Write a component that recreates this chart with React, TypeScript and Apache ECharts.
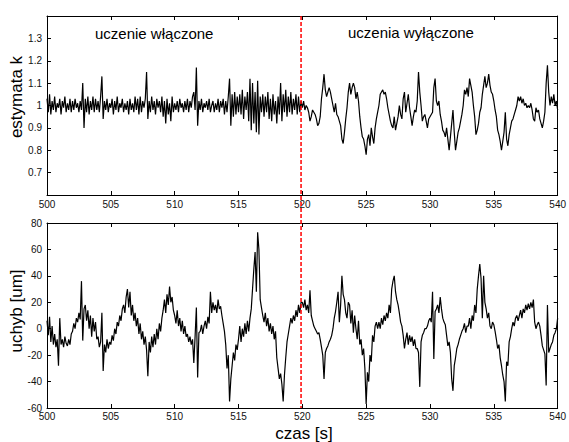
import React, { useEffect, useRef } from "react";
import * as echarts from "echarts";

const tStart = 500;
const timeStep = 0.1;
const switchTime = 519.9;

const xTickLabels = ["500", "505", "510", "515", "520", "525", "530", "535", "540"];
const kTickLabels = ["0.7", "0.8", "0.9", "1", "1.1", "1.2", "1.3"];
const errTickLabels = ["-60", "-40", "-20", "0", "20", "40", "60", "80"];

const annotationOn = "uczenie włączone";
const annotationOff = "uczenia wyłączone";
const labelK = "estymata k";
const labelErr = "uchyb [um]";
const labelTime = "czas [s]";

// k estimate, 500.0 .. 519.9 s (learning on)
const kLearningOn = [
  1.03, 0.97, 1.05, 0.96, 1.02, 0.98, 1.04, 0.97, 1.01, 0.99,
  1.03, 0.96, 1.02, 0.99, 1.04, 0.97, 1.01, 0.98, 1.03, 0.97,
  1.02, 0.98, 1.03, 0.99, 1.01, 0.97, 1.02, 0.98, 1.10, 0.90,
  1.03, 0.97, 1.04, 0.96, 1.02, 0.98, 1.04, 0.97, 1.03, 0.98,
  1.02, 0.97, 1.04, 1.13, 0.94, 1.02, 0.98, 1.03, 0.97, 1.01,
  0.99, 1.03, 0.96, 1.02, 0.98, 1.04, 0.97, 1.01, 0.99, 1.03,
  0.97, 1.01, 0.98, 1.02, 0.96, 1.03, 0.98, 1.01, 0.97, 1.04,
  0.98, 1.03, 0.96, 1.04, 0.97, 1.02, 0.99, 1.03, 1.15, 0.94,
  1.02, 0.97, 1.04, 0.98, 1.02, 0.96, 1.03, 0.99, 1.02, 0.97,
  1.04, 0.95, 1.02, 0.92, 1.03, 0.96, 1.01, 0.93, 1.04, 0.97,
  1.01, 0.98, 1.02, 0.97, 1.03, 0.99, 1.01, 0.97, 1.02, 0.98,
  1.03, 0.97, 1.02, 0.99, 1.04, 1.06, 0.98, 1.17, 0.91, 1.02,
  0.98, 1.03, 0.97, 1.01, 0.99, 1.02, 0.98, 1.03, 0.97, 1.0,
  1.02, 0.97, 1.01, 0.98, 1.03, 0.97, 1.02, 0.99, 1.03, 0.96,
  1.02, 0.97, 1.04, 1.12, 0.91, 1.05, 0.95, 1.06, 0.96, 1.04,
  0.97, 1.05, 0.96, 1.07, 0.94, 1.04, 0.98, 1.06, 0.93, 1.12,
  0.89, 1.1, 0.92, 1.06, 0.88, 1.11, 0.87, 1.04, 0.97, 1.05,
  0.95, 1.04, 0.97, 1.06, 0.94, 1.03, 0.93, 1.05, 0.96, 1.02,
  0.92, 1.04, 0.96, 1.1, 0.93, 1.05, 0.97, 1.07, 0.95, 1.04,
  0.97, 1.06, 0.96, 1.03, 0.98, 1.05, 0.96, 1.04, 0.97, 1.02,
];

// k estimate, 520.0 .. 540.0 s (learning off)
const kLearningOff = [
  0.99, 1.02, 0.98, 1.0, 0.99, 0.97, 0.93, 0.95, 0.98, 0.97,
  0.96, 0.94, 0.91, 0.92, 0.95, 1.03, 1.08, 1.14, 1.07, 1.04,
  1.06, 1.08, 1.06, 1.03, 1.0, 0.97, 1.01, 0.96, 0.95, 0.93,
  0.91, 0.85, 0.83, 0.88, 0.94, 0.99, 1.06, 1.1, 1.05, 1.08,
  1.1, 1.08, 1.03, 1.06, 1.02, 0.95, 0.9, 0.86, 0.85, 0.82,
  0.78, 0.85, 0.87, 0.82, 0.9, 0.86, 0.83, 0.9, 0.94, 0.97,
  1.0, 1.05, 1.06, 1.07, 1.05, 1.06, 1.03, 0.99, 0.96, 0.93,
  0.91, 0.9, 0.95, 0.89, 0.92, 0.95, 1.0, 0.96, 0.94, 1.03,
  1.06, 0.97, 1.01, 1.05, 0.99, 0.95, 0.91, 0.95, 0.98, 0.97,
  1.02, 1.15, 1.06, 1.0, 0.93, 0.95, 0.96, 0.93, 0.9, 0.94,
  0.95, 0.96, 0.97, 1.08, 1.12, 1.02, 1.0, 1.02, 0.96, 0.93,
  0.89, 0.88, 0.86, 0.9, 0.85, 0.8, 0.86, 0.92, 0.98, 0.88,
  0.8, 0.84, 0.88, 0.9, 0.93, 0.96, 1.0, 1.07, 1.05, 1.08,
  1.04, 1.12, 1.09, 1.06, 1.0, 0.95, 0.87, 0.89, 0.92, 0.97,
  0.99, 1.05, 1.09, 1.13, 1.08, 1.1, 1.14, 1.09, 1.06, 1.05,
  1.02, 0.98, 0.95, 0.89, 0.87, 0.84, 0.8, 0.84, 0.88, 0.97,
  0.85, 0.82, 0.87, 0.9, 0.93, 0.94, 0.96, 0.98, 1.0, 1.04,
  1.02, 1.04, 1.01, 1.03, 1.0, 1.01, 0.99, 1.0, 0.99, 1.01,
  0.98, 0.94, 0.93, 0.99, 0.97, 0.98, 0.94, 0.92, 0.9, 0.93,
  0.97, 1.1, 1.18, 1.06, 1.0, 1.04, 1.01, 1.05, 1.0, 1.02,
  0.98,
];

// tracking error [um], 500.0 .. 519.9 s (learning on)
const errLearningOn = [
  6, -5, 9, -10, 2, -12, -4, -14, -8, -28,
  8, -12, -8, -14, -6, -11, -13, -8, -12, -4,
  -2, 4, 0, 8, 5, 12, 7, 36, -9, 15,
  18, 6, 14, 0, 10, -6, 8, -2, 5, -8,
  -6, -14, -10, 12, -32, -12, -18, -8, -15, -10,
  -12, -5, -9, 0, -4, 5, 2, 10, 6, 15,
  18, 12, 24, 30, 16, 28, 10, 18, 6, 12,
  2, 8, -4, 4, -8, -2, -12, -6, -16, -36,
  -10, -18, -6, -14, -4, -12, 0, -8, 4, -2,
  8, 14, 22, 12, 26, 18, 32, 20, 24, 14,
  10, 4, 14, 2, 8, -2, 6, -4, 2, -6,
  -4, -10, -6, -12, -8, -26, -6, 16, -37, -3,
  -2, 3, -4, 2, 6, 0, 9, 4, 28, 12,
  20, 14, 18, 12, 22, 15, 17, 10, 4, -2,
  -12, -30, -20, -55, -38, -28, -18, -24, -12, -16,
  -8, 2, -10, 0, -6, 4, -4, 6, -2, 8,
  15, 30, 45, 58, 28, 73, 60, 22, 16, 10,
  5, 12, 2, 8, -2, 4, -4, 2, -8, -2,
  -22, -30, -38, -34, -42, -55, -35, -22, -10, -4,
  2, 8, 4, 10, 6, 14, 9, 18, 12, 20,
];

// tracking error [um], 520.0 .. 540.0 s (learning off)
const errLearningOff = [
  20, 16, 22, 14, 18, 12, 29, 10, 6, 2,
  0, -2, -4, -3, -8, -14, -20, -38, -18, -15,
  -13, -10, -8, -5, 0, 8, 13, 20, 28, 5,
  18, 40, 26, 22, 12, 8, 20, 18, 4, 14,
  -3, 10, 0, -8, 6, -12, -8, -20, -15, -30,
  -57, -33, -40, -20, -25, -5, -10, 2, 5, 0,
  5, 0, 8, 3, 10, 6, 12, 8, 18, 12,
  30, 36, 40, 28, 22, 18, 12, 5, 2, -5,
  -15, -8, -3, -12, -5, -10, -6, -13, -8, -15,
  -15, -18, -44, -10, -5, -3, 0, 0, 2, 6,
  8, 5, 28, -23, 13, 15, 18, 12, 24, 15,
  8, 5, 3, -5, -13, -10, -18, -38, -47, -28,
  -22, -15, -12, -8, -5, -2, 0, 4, -3, 2,
  2, 8, 0, 10, 6, 18, 12, 30, 40, 49,
  38, 8, 40, 20, 15, 8, 12, 2, 0, 5,
  3, -2, -8, -15, -12, -22, -28, -35, -40, -55,
  -25, -28, -10, -6, 0, 5, 2, 8, 10, 6,
  10, 14, 8, 15, 12, 18, 14, 19, 15, 20,
  16, 22, 5, 0, 3, 5, 2, -5, -13, -16,
  -19, -43, 18, -18, -15, -12, -10, -5, -3, 0,
  8,
];

const FONT = "'Liberation Sans', Arial, Helvetica, sans-serif";

function toPairs(values: number[]) {
  return values.map((v, i) => [Math.round((tStart + i * timeStep) * 10) / 10, v]);
}

export default function App() {
  const ref = useRef<HTMLDivElement>(null);

  useEffect(() => {
    if (!ref.current) return;
    const chart = echarts.init(ref.current, undefined, { renderer: "svg" });

    const kData = toPairs([...kLearningOn, ...kLearningOff]);
    const errData = toPairs([...errLearningOn, ...errLearningOff]);

    const axisLine = { show: true, onZero: false, lineStyle: { color: "#000", width: 1 } };
    const tick = { show: true, inside: true, length: 4, lineStyle: { color: "#000", width: 1 } };
    const labelStyle = { color: "#111", fontSize: 10, fontFamily: FONT };

    const xBottom = (gridIndex: number, margin: number) => ({
      type: "value",
      gridIndex,
      position: "bottom",
      min: 500,
      max: 540,
      interval: 5,
      axisLine,
      axisTick: tick,
      splitLine: { show: false },
      axisLabel: {
        ...labelStyle,
        margin,
        formatter: (v: number) => xTickLabels[Math.round((v - 500) / 5)] ?? "",
      },
    });
    const xTop = (gridIndex: number) => ({
      type: "value",
      gridIndex,
      position: "top",
      min: 500,
      max: 540,
      interval: 5,
      axisLine,
      axisTick: tick,
      splitLine: { show: false },
      axisLabel: { show: false },
    });

    chart.setOption({
      animation: false,
      backgroundColor: "#fff",
      grid: [
        { left: 47, width: 514, top: 16, height: 179, containLabel: false },
        { left: 47, width: 514, top: 223, height: 185, containLabel: false },
      ],
      xAxis: [xBottom(0, 4), xTop(0), xBottom(1, 3), xTop(1)],
      yAxis: [
        {
          type: "value",
          gridIndex: 0,
          position: "left",
          min: 0.6,
          max: 1.4,
          interval: 0.1,
          axisLine,
          axisTick: tick,
          splitLine: { show: false },
          axisLabel: {
            ...labelStyle,
            margin: 5,
            showMinLabel: false,
            showMaxLabel: false,
            formatter: (v: number) => {
              const idx = Math.round((v - 0.7) * 10);
              return kTickLabels[idx] ?? "";
            },
          },
        },
        {
          type: "value",
          gridIndex: 0,
          position: "right",
          min: 0.6,
          max: 1.4,
          interval: 0.1,
          axisLine,
          axisTick: tick,
          splitLine: { show: false },
          axisLabel: { show: false },
        },
        {
          type: "value",
          gridIndex: 1,
          position: "left",
          min: -60,
          max: 80,
          interval: 20,
          axisLine,
          axisTick: tick,
          splitLine: { show: false },
          axisLabel: {
            ...labelStyle,
            margin: 5,
            formatter: (v: number) => errTickLabels[Math.round((v + 60) / 20)] ?? "",
          },
        },
        {
          type: "value",
          gridIndex: 1,
          position: "right",
          min: -60,
          max: 80,
          interval: 20,
          axisLine,
          axisTick: tick,
          splitLine: { show: false },
          axisLabel: { show: false },
        },
      ],
      series: [
        {
          type: "line",
          xAxisIndex: 0,
          yAxisIndex: 0,
          data: kData,
          showSymbol: false,
          symbol: "none",
          lineStyle: { color: "#000", width: 1.2 },
          silent: true,
        },
        {
          type: "line",
          xAxisIndex: 2,
          yAxisIndex: 2,
          data: errData,
          showSymbol: false,
          symbol: "none",
          lineStyle: { color: "#000", width: 1.2 },
          silent: true,
        },
      ],
    });

    const pTop = chart.convertToPixel({ xAxisIndex: 0, yAxisIndex: 0 }, [switchTime, 1.4]) as number[];
    const pBot = chart.convertToPixel({ xAxisIndex: 2, yAxisIndex: 2 }, [switchTime, -60]) as number[];

    chart.setOption({
      graphic: [
        {
          type: "line",
          id: "switch",
          z: 100,
          shape: { x1: pTop[0], y1: pTop[1], x2: pBot[0], y2: pBot[1] },
          style: { stroke: "#ff0000", lineWidth: 1.5, lineDash: [4, 2] },
        },
        {
          type: "text",
          id: "on",
          left: 95,
          top: 26,
          style: { text: annotationOn, fill: "#000", fontSize: 15, fontFamily: FONT },
        },
        {
          type: "text",
          id: "off",
          left: 348,
          top: 25,
          style: { text: annotationOff, fill: "#000", fontSize: 15, fontFamily: FONT },
        },
        {
          type: "text",
          id: "ylab1",
          x: 16,
          y: 97,
          rotation: Math.PI / 2,
          style: {
            text: labelK,
            fill: "#000",
            fontSize: 17,
            fontFamily: FONT,
            align: "center",
            verticalAlign: "middle",
          },
        },
        {
          type: "text",
          id: "ylab2",
          x: 16,
          y: 311,
          rotation: Math.PI / 2,
          style: {
            text: labelErr,
            fill: "#000",
            fontSize: 17,
            fontFamily: FONT,
            align: "center",
            verticalAlign: "middle",
          },
        },
        {
          type: "text",
          id: "xlab",
          x: 304,
          y: 433,
          style: {
            text: labelTime,
            fill: "#000",
            fontSize: 17,
            fontFamily: FONT,
            align: "center",
            verticalAlign: "middle",
          },
        },
      ],
    });

    return () => chart.dispose();
  }, []);

  return (
    <div
      ref={ref}
      style={{ position: "fixed", left: 0, top: 0, width: 569, height: 442, background: "#fff" }}
    />
  );
}
